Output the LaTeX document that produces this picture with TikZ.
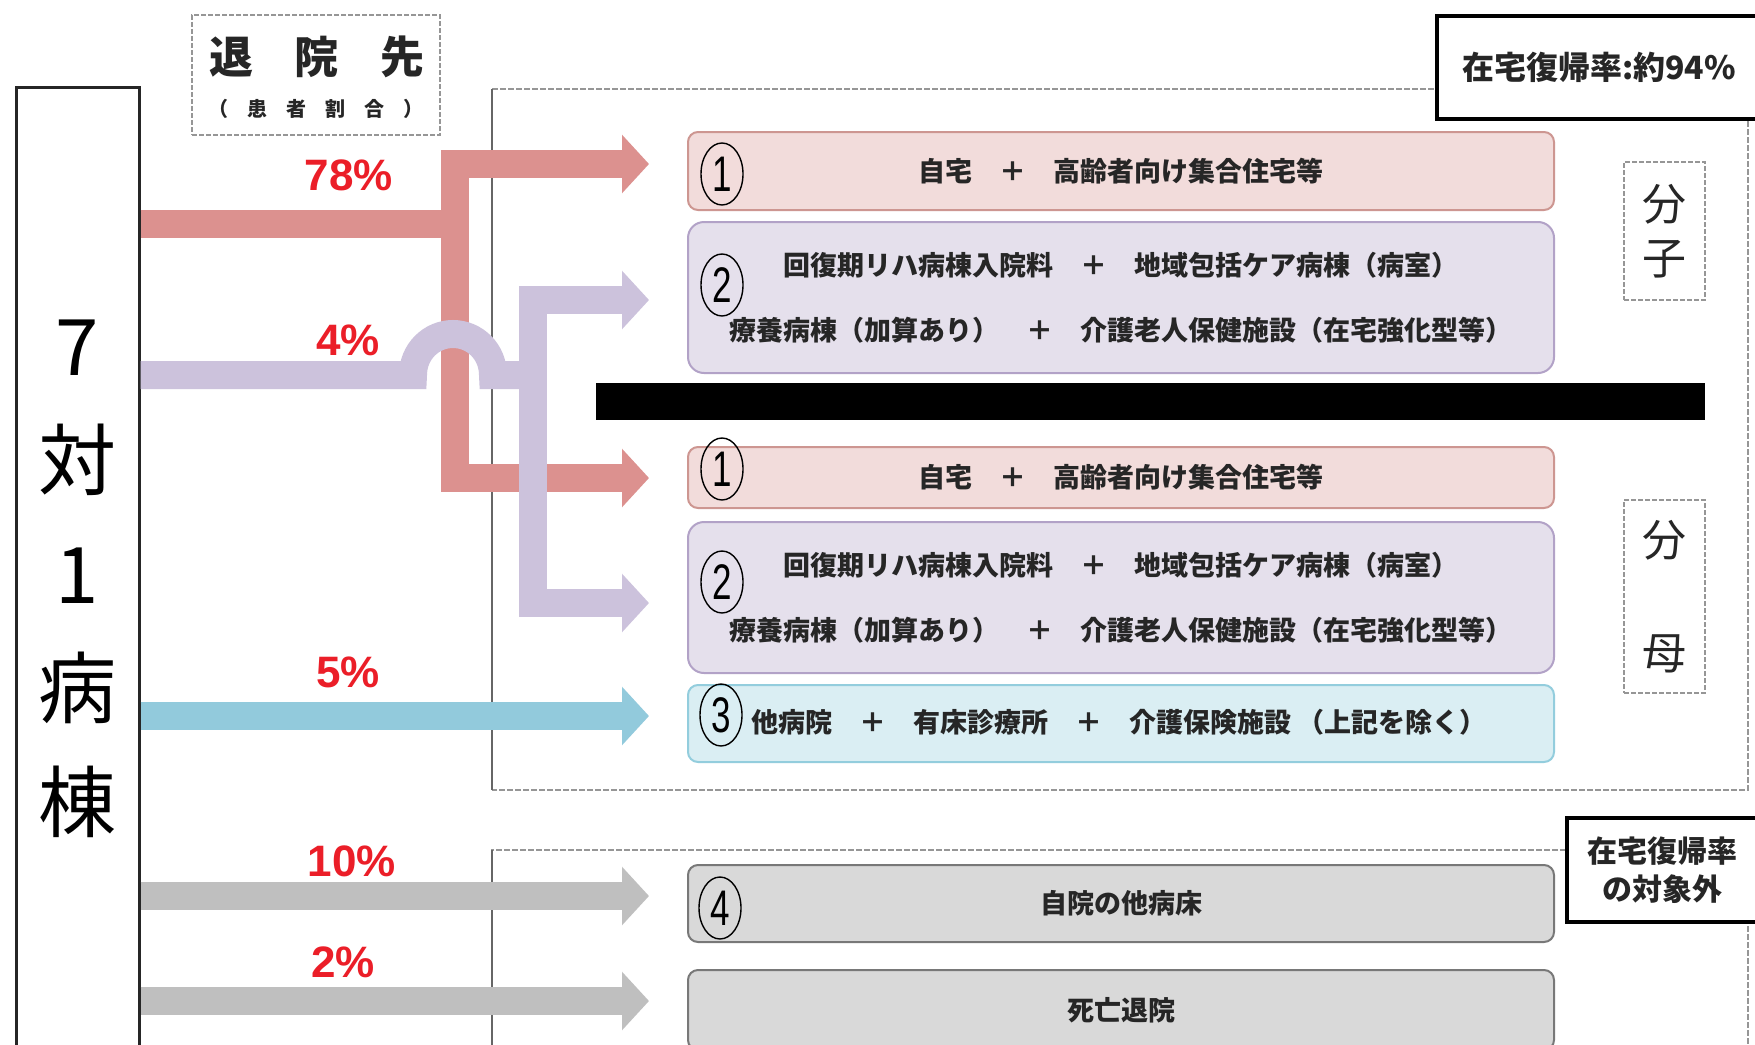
\documentclass[tikz,border=0pt]{standalone}
\usepackage{fontspec}
\usepackage{graphicx}
\setmainfont{Liberation Sans}
\newfontfamily\jp{Noto Sans CJK JP}
\usetikzlibrary{arrows.meta,shapes.geometric}
\definecolor{pinkA}{RGB}{220,145,143}
\definecolor{lavA}{RGB}{204,194,220}
\definecolor{cyanA}{RGB}{146,202,220}
\definecolor{grayA}{RGB}{191,191,191}
\definecolor{pinkF}{RGB}{242,220,219}
\definecolor{pinkD}{RGB}{205,150,145}
\definecolor{lavF}{RGB}{229,224,236}
\definecolor{lavD}{RGB}{178,162,199}
\definecolor{cyanF}{RGB}{218,238,243}
\definecolor{cyanD}{RGB}{147,205,221}
\definecolor{grayF}{RGB}{217,217,217}
\definecolor{grayD}{RGB}{120,120,120}
\definecolor{redT}{RGB}{235,30,40}
\definecolor{txtc}{RGB}{38,38,38}
\definecolor{frameC}{RGB}{150,150,150}
\tikzset{
  flow/.style={line width=28pt, line join=miter},
  onetip/.style={-{Triangle[length=27pt,width=57pt]}},
  twotips/.style={{Triangle[length=27pt,width=57pt]}-{Triangle[length=27pt,width=57pt]}},
  destbox/.style={draw, rounded corners=10pt, line width=2pt, minimum width=866pt, inner sep=0pt, align=center, text=txtc, font=\jp\bfseries\fontsize{27}{65}\selectfont},
  boxtext/.style={text=txtc, inner sep=0pt, font=\jp\bfseries\fontsize{27}{65}\selectfont},
  circnum/.style={ellipse, draw=black, line width=1.4pt, minimum width=42pt, minimum height=62pt, inner sep=0pt, font=\fontsize{50}{50}\selectfont},
  pct/.style={text=redT, inner sep=0pt, font=\bfseries\fontsize{44}{44}\selectfont},
  frame/.style={draw=frameC, line width=1.5pt, dash pattern=on 6pt off 2pt},
  frameleft/.style={draw=black!60, line width=1.2pt},
  sidebox/.style={draw=frameC, line width=1.5pt, dash pattern=on 5pt off 2pt, inner sep=0pt, fill=white, align=center, text=txtc},
  ratebox/.style={draw=black, line width=3.5pt, fill=white, inner sep=0pt, align=center, text=txtc, font=\jp\bfseries\fontsize{32}{38}\selectfont}
}
\begin{document}
\begin{tikzpicture}[x=1pt,y=-1pt]
\path[use as bounding box] (0,0) rectangle (1755,1044);
\clip (0,0) rectangle (1755,1044);
\fill[white] (0,0) rectangle (1755,1044);

% frames
\coordinate (f1a) at (492,89);
\coordinate (f1b) at (1748,790);
\coordinate (f2a) at (492,850);
\coordinate (f2b) at (1748,1070);
\draw[frame] (f1a) -- (f1a -| f1b) -- (f1b) -- (f1b -| f1a);
\draw[frameleft] (f1a) -- (f1b -| f1a);
\draw[frame] (f2b -| f2a) -- (f2a) -- (f2a -| f2b) -- (f2b);
\draw[frameleft] (f2a) -- (f2b -| f2a);

% left ward box
\node[draw=black!85, line width=3pt, fill=white, minimum width=123pt, minimum height=983pt, inner sep=0pt, align=center, font=\jp\fontsize{78}{114}\selectfont] (ward) at (77.5,578.5) {7\\対\\1\\病\\棟};

% header box
\node[sidebox, minimum width=248pt, minimum height=120pt] (tbox) at (316,75) {};
\node[text=txtc, inner sep=0pt, font=\jp\bfseries\fontsize{44}{52}\selectfont] (tx1) at (317,57) {退\hspace{42pt}院\hspace{42pt}先};
\node[text=txtc, inner sep=0pt, font=\jp\bfseries\fontsize{20}{20}\selectfont] (tx2) at (316,109) {（\hspace{19pt}患\hspace{19pt}者\hspace{19pt}割\hspace{19pt}合\hspace{19pt}）};

% destination boxes
\node[destbox, draw=pinkD, fill=pinkF, minimum height=78pt] (b1t) at (1121,171) {自宅　＋　高齢者向け集合住宅等};
\node[destbox, draw=lavD, fill=lavF, minimum height=151pt, rounded corners=16pt] (b2t) at (1121,297.5) {回復期リハ病棟入院料　＋　地域包括ケア病棟（病室）\\療養病棟（加算あり）　＋　介護老人保健施設（在宅強化型等）};
\node[fill=black, inner sep=0pt, minimum width=1109pt, minimum height=37pt] (bar) at (1150.5,401.5) {};
\node[destbox, draw=pinkD, fill=pinkF, minimum height=61pt] (b1b) at (1121,477.5) {自宅　＋　高齢者向け集合住宅等};
\node[destbox, draw=lavD, fill=lavF, minimum height=151pt, rounded corners=16pt] (b2b) at (1121,597.5) {回復期リハ病棟入院料　＋　地域包括ケア病棟（病室）\\療養病棟（加算あり）　＋　介護老人保健施設（在宅強化型等）};
\node[destbox, draw=cyanD, fill=cyanF, minimum height=77pt] (b3) at (1121,723.5) {};
\node[boxtext, anchor=west] (b3t) at (751,722) {他病院　＋　有床診療所　＋　介護保険施設 （上記を除く）};
\node[destbox, draw=grayD, fill=grayF, minimum height=77pt] (b4) at (1121,903.5) {自院の他病床};
\node[destbox, draw=grayD, fill=grayF, minimum height=80pt] (b5) at (1121,1010) {死亡退院};

% circled numbers
\node[circnum] (n1t) at (722,174) {\scalebox{0.7}[1]{1}};
\node[circnum] (n2t) at (722,285) {\scalebox{0.7}[1]{2}};
\node[circnum] (n1b) at (722,469) {\scalebox{0.7}[1]{1}};
\node[circnum] (n2b) at (722,582) {\scalebox{0.7}[1]{2}};
\node[circnum] (n3) at (721,715) {\scalebox{0.7}[1]{3}};
\node[circnum] (n4) at (720,908) {\scalebox{0.7}[1]{4}};

% side boxes
\node[sidebox, minimum width=81pt, minimum height=138pt, font=\jp\fontsize{44}{54}\selectfont] (bunshi) at (1664.5,231) {分\\子};
\node[sidebox, minimum width=81pt, minimum height=193pt, font=\jp\fontsize{44}{113}\selectfont] (bunbo) at (1664.5,596.5) {分\\母};

% rate boxes
\node[ratebox, minimum width=324pt, minimum height=103pt] (rate) at (1599,67.5) {\raisebox{-6pt}{在宅復帰率:約94\%}};
\node[ratebox, minimum width=191pt, minimum height=104pt, font=\jp\bfseries\fontsize{30}{38}\selectfont] (excl) at (1662.5,870) {在宅復帰率\\の対象外};

% flow connectors
\coordinate (p1) at (649,164);
\coordinate (p2) at (649,478);
\coordinate (pj) at (455,224);
\coordinate (l1) at (649,300);
\coordinate (l2) at (649,603);
\coordinate (lj) at (533,375);
\coordinate (c3) at (649,716);
\coordinate (g4) at (649,896);
\coordinate (g5) at (649,1001);

\draw[flow, pinkA, twotips] (p1) -| (pj) |- (p2);
\draw[flow, pinkA] (ward.east |- pj) -- (pj);
\draw[flow, lavA, twotips] (l1) -| (lj) |- (l2);
\draw[flow, lavA] (ward.east |- lj) -- (413,375) .. controls (413,352) and (431,334) .. (453,334) .. controls (475,334) and (493,352) .. (493,375) -- (lj);
\draw[flow, cyanA, onetip] (ward.east |- c3) -- (c3);
\draw[flow, grayA, onetip] (ward.east |- g4) -- (g4);
\draw[flow, grayA, onetip] (ward.east |- g5) -- (g5);

% percentages
\node[pct] (q78) at (349,175) {78\%};
\node[pct] (q4) at (348,340) {4\%};
\node[pct] (q5) at (348,672) {5\%};
\node[pct] (q10) at (352,861) {10\%};
\node[pct] (q2) at (343,962) {2\%};
\end{tikzpicture}
\end{document}
